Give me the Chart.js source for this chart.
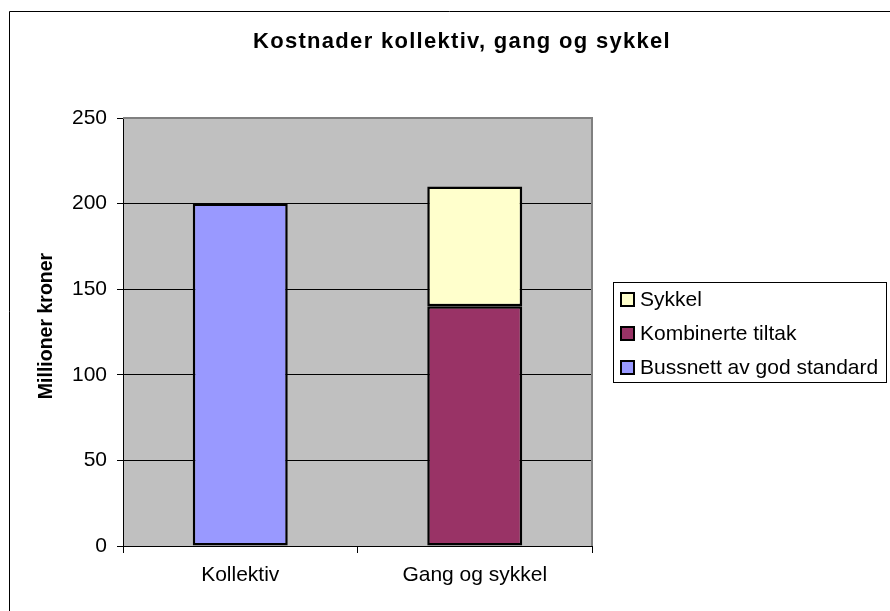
<!DOCTYPE html>
<html>
<head>
<meta charset="utf-8">
<script src="https://cdn.jsdelivr.net/npm/chart.js@4/dist/chart.umd.min.js"></script>
<style>
  html, body { margin: 0; padding: 0; background: #fff; }
  #wrap { position: relative; width: 890px; height: 611px; }
</style>
</head>
<body>
<div id="wrap"><canvas id="c" width="890" height="611"></canvas></div>
<script>
// Costs, in million kroner
const categories = ['Kollektiv', 'Gang og sykkel'];
const bussnett = [200, null];
const kombinerte = [null, 140];
const sykkel = [null, 70];
const yTicks = [0, 50, 100, 150, 200, 250];

const FONT = '"Liberation Sans", Arial, sans-serif';

// Grey plot backdrop, frame, titles and the boxed legend
const excelLook = {
  id: 'excelLook',
  beforeDraw(chart) {
    const { ctx, chartArea: a } = chart;
    ctx.save();
    ctx.fillStyle = '#C0C0C0';
    ctx.fillRect(a.left, a.top, a.right - a.left, a.bottom - a.top);
    ctx.restore();
  },
  afterDraw(chart) {
    const { ctx, chartArea: a } = chart;
    ctx.save();
    // outer chart frame (top and left edges)
    ctx.strokeStyle = '#000';
    ctx.lineWidth = 1;
    ctx.beginPath();
    ctx.moveTo(9.5, 611);
    ctx.lineTo(9.5, 11.5);
    ctx.lineTo(890, 11.5);
    ctx.stroke();

    // plot frame top and right in grey
    ctx.strokeStyle = '#808080';
    ctx.lineWidth = 2;
    ctx.beginPath();
    ctx.moveTo(a.left, a.top);
    ctx.lineTo(a.right, a.top);
    ctx.lineTo(a.right, a.bottom);
    ctx.stroke();

    // chart title
    ctx.fillStyle = '#000';
    ctx.font = 'bold 22px ' + FONT;
    ctx.letterSpacing = '1.3px';
    ctx.textAlign = 'center';
    ctx.textBaseline = 'alphabetic';
    ctx.fillText('Kostnader kollektiv, gang og sykkel', 462, 48);

    // y axis title
    ctx.save();
    ctx.translate(47, 326);
    ctx.rotate(-Math.PI / 2);
    ctx.font = 'bold 19.5px ' + FONT;
    ctx.letterSpacing = '0px';
    ctx.textBaseline = 'middle';
    ctx.fillText('Millioner kroner', 0, 0);
    ctx.restore();
    ctx.letterSpacing = '0px';

    // legend box
    const lx = 613, ly = 282, lw = 273, lh = 100;
    ctx.fillStyle = '#fff';
    ctx.fillRect(lx, ly, lw, lh);
    ctx.strokeStyle = '#000';
    ctx.lineWidth = 1;
    ctx.strokeRect(lx + 0.5, ly + 0.5, lw, lh);
    const ds = chart.data.datasets.slice().reverse();
    ctx.font = '21px ' + FONT;
    ctx.textAlign = 'left';
    ctx.textBaseline = 'middle';
    ds.forEach((d, i) => {
      const cy = 299 + i * 34;
      ctx.fillStyle = d.backgroundColor;
      ctx.fillRect(621, cy - 6, 13, 13);
      ctx.strokeStyle = '#000';
      ctx.lineWidth = 2;
      ctx.strokeRect(621, cy - 6, 13, 13);
      ctx.fillStyle = '#000';
      ctx.fillText(d.label, 640, cy + 1);
    });
    ctx.restore();
  }
};

const barStyle = { borderColor: '#000', borderWidth: 2.5, borderSkipped: false,
                   barPercentage: 0.405, categoryPercentage: 1.0 };

new Chart(document.getElementById('c'), {
  type: 'bar',
  data: {
    labels: categories,
    datasets: [
      Object.assign({ label: 'Bussnett av god standard', data: bussnett, backgroundColor: '#9999FF' }, barStyle),
      Object.assign({ label: 'Kombinerte tiltak', data: kombinerte, backgroundColor: '#993366' }, barStyle),
      Object.assign({ label: 'Sykkel', data: sykkel, backgroundColor: '#FFFFCC' }, barStyle)
    ]
  },
  options: {
    responsive: false,
    animation: false,
    layout: { padding: { top: 118, right: 298, left: 0, bottom: 0 } },
    plugins: { legend: { display: false }, title: { display: false }, tooltip: { enabled: false } },
    scales: {
      x: {
        stacked: true,
        afterFit(s) { s.height = 65; },
        grid: { display: true, drawOnChartArea: false, offset: true, tickLength: 7, color: '#000', lineWidth: 1 },
        border: { display: true, color: '#000', width: 1 },
        ticks: { color: '#000', font: { family: FONT, size: 21 }, padding: 10 }
      },
      y: {
        stacked: true,
        min: 0, max: 250,
        afterFit(s) { s.width = 123; },
        afterBuildTicks(s) { s.ticks = yTicks.map(v => ({ value: v })); },
        grid: { color: '#000', lineWidth: 1, tickLength: 6, drawTicks: true },
        border: { display: true, color: '#000', width: 1 },
        ticks: { color: '#000', font: { family: FONT, size: 21 }, padding: 10 }
      }
    }
  },
  plugins: [excelLook]
});
</script>
</body>
</html>
